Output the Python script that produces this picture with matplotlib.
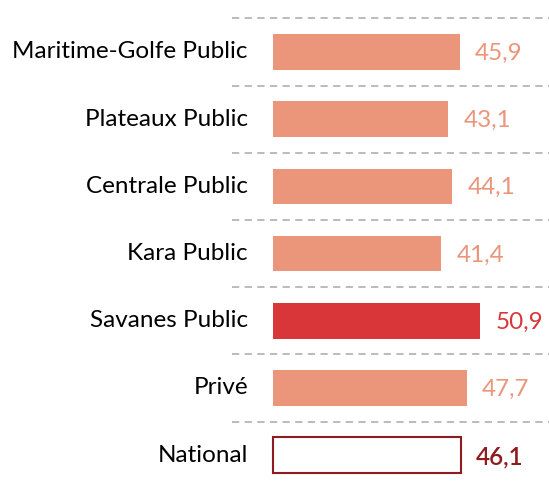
import matplotlib
matplotlib.use("Agg")
import matplotlib.pyplot as plt

categories = ["Maritime-Golfe Public", "Plateaux Public", "Centrale Public", "Kara Public",
              "Savanes Public", "Privé", "National"]
values = [45.9, 43.1, 44.1, 41.4, 50.9, 47.7, 46.1]
value_labels = ["45,9", "43,1", "44,1", "41,4", "50,9", "47,7", "46,1"]

salmon = "#EB957A"
red = "#D9363A"
dark = "#8E1B1E"
fills = [salmon, salmon, salmon, salmon, red, salmon, "white"]
edges = [salmon, salmon, salmon, salmon, red, salmon, dark]
textcols = [salmon, salmon, salmon, salmon, red, salmon, dark]

plt.rcParams['font.family'] = ['Lato', 'DejaVu Sans']

W, H = 549, 483
fig = plt.figure(figsize=(W / 100, H / 100), dpi=100)
ax_left = 232 / W
ax = fig.add_axes([ax_left, 0, 1 - ax_left, 1])
ppu = 4.07
x0 = 273
ax.set_xlim(-(x0 - 232) / ppu, (549 - x0) / ppu)
unit = 67.2
ax.set_ylim((H - 52) / unit, -52 / unit)
ax.axis('off')

for i, (v, fc, ec) in enumerate(zip(values, fills, edges)):
    lw = 1.5 if fc == "white" else 0
    ax.barh(i, v, height=0.53, color=fc, edgecolor=ec, linewidth=lw)
    ax.text(v + 15 / ppu, i + 0.02, value_labels[i], color=textcols[i], va='center', ha='left',
            fontsize=17.5, fontweight='semibold' if i == len(categories) - 1 else 'normal')
    fig.text(248 / W, 1 - (52 + unit * i) / H, categories[i], ha='right', va='center',
             fontsize=17.5, color='black')

for i in range(len(categories)):
    ax.axhline(i - 0.5, color='#B5B5B5', linestyle=(0, (4, 3)), linewidth=1.3)

fig.savefig("out.png", dpi=100)
